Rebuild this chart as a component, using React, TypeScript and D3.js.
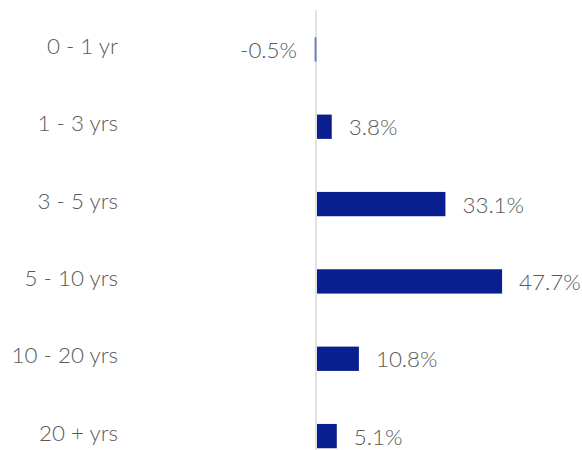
import React from "react";
import * as d3 from "d3";

const categories = ["0 - 1 yr", "1 - 3 yrs", "3 - 5 yrs", "5 - 10 yrs", "10 - 20 yrs", "20 + yrs"];
const values = [-0.5, 3.8, 33.1, 47.7, 10.8, 5.1];
const valueLabels = ["-0.5%", "3.8%", "33.1%", "47.7%", "10.8%", "5.1%"];

const W = 582;
const H = 450;

export default function App() {
  const x = d3.scaleLinear().domain([0, 50]).range([317, 317 + 194]);
  const y = d3.scalePoint<string>().domain(categories).range([49.4, 436.1]);
  const barH = 24.3;
  const font = "Lato, 'Open Sans', sans-serif";
  const textColor = "#595959";
  return (
    <svg
      width={W}
      height={H}
      style={{ position: "absolute", left: 0, top: 0, display: "block" }}
    >
      <rect x={0} y={0} width={W} height={H} fill="#ffffff" />
      <line x1={x(0) - 1} x2={x(0) - 1} y1={10} y2={H} stroke="#d9d9d9" strokeWidth={1.5} />
      {categories.map((c, i) => {
        const v = values[i];
        const cy = y(c) as number;
        const x0 = x(Math.min(0, v));
        const x1 = x(Math.max(0, v));
        return (
          <g key={c}>
            <rect
              x={v < 0 ? x0 - 0.5 : x0}
              y={cy - barH / 2}
              width={Math.max(0, x1 - x0)}
              height={barH}
              fill={v < 0 ? "#6f7cc2" : "#0a1f8f"}
            />
            <text
              x={118}
              y={cy - 4}
              textAnchor="end"
              dominantBaseline="central"
              fontFamily={font}
              fontSize={22.4}
              fontWeight={300}
              fill={textColor}
            >
              {c}
            </text>
            <text
              x={v < 0 ? x0 - 18 : x1 + 17}
              y={cy}
              textAnchor={v < 0 ? "end" : "start"}
              dominantBaseline="central"
              fontFamily={font}
              fontSize={22.4}
              fontWeight={300}
              fill={textColor}
            >
              {valueLabels[i]}
            </text>
          </g>
        );
      })}
    </svg>
  );
}
